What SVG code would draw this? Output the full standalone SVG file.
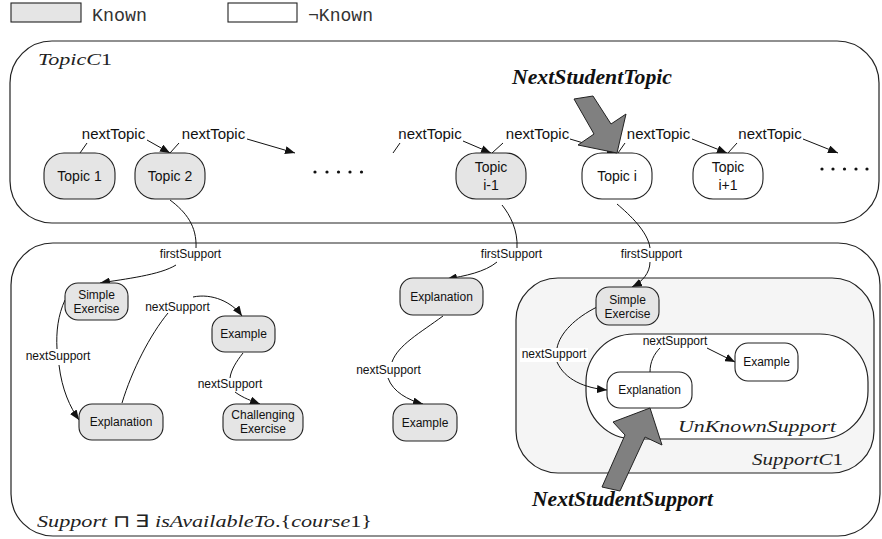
<svg xmlns="http://www.w3.org/2000/svg" width="882" height="539" viewBox="0 0 882 539">
  <style>
    .box { stroke: #222; stroke-width: 1.1; }
    .known { fill: #e5e5e5; }
    .unknown { fill: #ffffff; }
    .cont { fill: none; stroke: #222; stroke-width: 1.2; }
    .lbl { font-family: "Liberation Sans", Arial, sans-serif; fill: #111; text-anchor: middle; }
    .tn { font-size: 14px; }
    .sn { font-size: 12px; }
    .el { font-family: "Liberation Sans", Arial, sans-serif; fill: #111; text-anchor: middle; }
    .et { font-size: 15px; }
    .es { font-size: 12px; }
    .edge { fill: none; stroke: #111; stroke-width: 1; }
    .math { font-family: "Liberation Serif", "Times New Roman", serif; font-size: 17px; fill: #222; }
    .it { font-style: italic; }
    .big { font-family: "Liberation Serif", "Times New Roman", serif; font-size: 20px; font-weight: bold; font-style: italic; fill: #111; }
    .fat { fill: #808080; stroke: #222; stroke-width: 1; }
    .mono { font-family: "Liberation Mono", "Courier New", monospace; font-size: 18px; fill: #333; }
  </style>
  <defs>
    <marker id="arr" viewBox="0 0 10 8" refX="10" refY="4" markerWidth="10" markerHeight="8" orient="auto" markerUnits="userSpaceOnUse">
      <path d="M0,0 L10,4 L0,8 z" fill="#111"/>
    </marker>
  </defs>

  <!-- legend -->
  <g id="legend">
    <rect x="11" y="3" width="70" height="19" class="box known"/>
    <text x="92" y="21" class="mono" textLength="55" lengthAdjust="spacingAndGlyphs">Known</text>
    <rect x="228" y="3" width="69" height="19" class="box unknown"/>
    <text x="308" y="21" class="mono" textLength="65" lengthAdjust="spacingAndGlyphs">¬Known</text>
  </g>

  <!-- containers -->
  <g id="topicC1">
    <rect x="10" y="41" width="869" height="182" rx="42" class="cont"/>
    <text x="38" y="65" class="math" textLength="74" lengthAdjust="spacingAndGlyphs"><tspan class="it">TopicC</tspan>1</text>
  </g>
  <g id="supportCourse">
    <rect x="11" y="243" width="869" height="293" rx="42" class="cont"/>
    <text x="37" y="527" class="math" textLength="335" lengthAdjust="spacingAndGlyphs"><tspan class="it">Support</tspan> ⊓ ∃ <tspan class="it">isAvailableTo</tspan>.{<tspan class="it">course</tspan>1}</text>
  </g>
  <g id="supportC1">
    <rect x="516" y="278" width="358" height="195" rx="42" fill="#f5f5f5" stroke="#222" stroke-width="1.2"/>
    <text x="752" y="465" class="math" textLength="91" lengthAdjust="spacingAndGlyphs"><tspan class="it">SupportC</tspan>1</text>
  </g>
  <g id="unknownSupport">
    <rect x="586" y="334" width="282" height="105" rx="48" fill="#ffffff" stroke="#222" stroke-width="1.2"/>
    <text x="678" y="432" class="math it" textLength="158" lengthAdjust="spacingAndGlyphs">UnKnownSupport</text>
  </g>

  <!-- connectors -->
  <g id="connectors">
    <!-- nextTopic chain -->
    <path class="edge" d="M80,153 L87,143"/>
    <path class="edge" d="M147,140 L170,153" marker-end="url(#arr)"/>
    <path class="edge" d="M170,153 L179,143"/>
    <path class="edge" d="M247,139 L295,153" marker-end="url(#arr)"/>
    <path class="edge" d="M393,153 L400,143"/>
    <path class="edge" d="M463,141 L491,153" marker-end="url(#arr)"/>
    <path class="edge" d="M492,153 L503,143"/>
    <path class="edge" d="M570,139 L617,153" marker-end="url(#arr)"/>
    <path class="edge" d="M618,153 L625,143"/>
    <path class="edge" d="M692,139 L727,153" marker-end="url(#arr)"/>
    <path class="edge" d="M728,153 L737,143"/>
    <path class="edge" d="M803,139 L838,153" marker-end="url(#arr)"/>

    <!-- firstSupport -->
    <path class="edge" d="M170,200 C186,212 197,226 196,248"/>
    <path class="edge" d="M176,265 C160,275 125,279 100,283" marker-end="url(#arr)"/>
    <path class="edge" d="M502,205 C510,215 518,230 517,248"/>
    <path class="edge" d="M497,262 C485,272 465,276 447,279" marker-end="url(#arr)"/>
    <path class="edge" d="M617,204 C630,215 648,232 650,248"/>
    <path class="edge" d="M650,262 C650,273 642,282 632,287" marker-end="url(#arr)"/>

    <!-- nextSupport, left group -->
    <path class="edge" d="M65,300 C58,315 56,332 57,349"/>
    <path class="edge" d="M59,365 C62,390 70,407 79,420" marker-end="url(#arr)"/>
    <path class="edge" d="M122,403 C132,370 150,335 168,313"/>
    <path class="edge" d="M193,297 C212,293 232,302 242,316" marker-end="url(#arr)"/>
    <path class="edge" d="M243,353 C236,362 231,370 230,378"/>
    <path class="edge" d="M235,392 C243,398 252,401 260,404" marker-end="url(#arr)"/>

    <!-- nextSupport, middle group -->
    <path class="edge" d="M443,316 C420,333 398,345 392,362"/>
    <path class="edge" d="M388,378 C393,392 408,400 423,404" marker-end="url(#arr)"/>

    <!-- nextSupport, SupportC1 -->
    <path class="edge" d="M597,307 C575,318 560,333 557,348"/>
    <path class="edge" d="M557,362 C565,380 585,388 607,390" marker-end="url(#arr)"/>
    <path class="edge" d="M650,372 C650,362 654,354 660,348"/>
    <path class="edge" d="M707,348 L735,362" marker-end="url(#arr)"/>
  </g>

  <!-- connector labels -->
  <g id="labels">
    <text x="113.5" y="139" class="el et">nextTopic</text>
    <text x="213.5" y="139" class="el et">nextTopic</text>
    <text x="430" y="139" class="el et">nextTopic</text>
    <text x="537.5" y="139" class="el et">nextTopic</text>
    <text x="658.5" y="139" class="el et">nextTopic</text>
    <text x="770" y="139" class="el et">nextTopic</text>

    <text x="190.5" y="258" class="el es">firstSupport</text>
    <text x="511.5" y="258" class="el es">firstSupport</text>
    <text x="651.5" y="258" class="el es">firstSupport</text>

    <text x="58" y="360" class="el es">nextSupport</text>
    <text x="177.5" y="311" class="el es">nextSupport</text>
    <text x="230" y="388" class="el es">nextSupport</text>
    <text x="388.5" y="374" class="el es">nextSupport</text>
    <rect x="520" y="348" width="68" height="14" fill="#ffffff"/>
    <text x="554" y="358" class="el es">nextSupport</text>
    <text x="675" y="345" class="el es">nextSupport</text>
  </g>

  <!-- topic nodes -->
  <g id="topic1">
    <rect x="44" y="153" width="71" height="46" rx="20" class="box known"/>
    <text x="79.5" y="181" class="lbl tn">Topic 1</text>
  </g>
  <g id="topic2">
    <rect x="135" y="153" width="70" height="46" rx="20" class="box known"/>
    <text x="170" y="181" class="lbl tn">Topic 2</text>
  </g>
  <g id="dotsMid" fill="#111">
    <circle cx="315" cy="172" r="1.6"/><circle cx="327" cy="172" r="1.6"/><circle cx="338.5" cy="172" r="1.6"/><circle cx="350" cy="172" r="1.6"/><circle cx="361.5" cy="172" r="1.6"/>
  </g>
  <g id="topicIm1">
    <rect x="456" y="153" width="70" height="46" rx="20" class="box known"/>
    <text x="491" y="172" class="lbl tn">Topic</text>
    <text x="491" y="190" class="lbl tn">i-1</text>
  </g>
  <g id="topicI">
    <rect x="582" y="153" width="70" height="46" rx="20" class="box unknown"/>
    <text x="617" y="181" class="lbl tn">Topic i</text>
  </g>
  <g id="topicIp1">
    <rect x="693" y="153" width="70" height="46" rx="20" class="box unknown"/>
    <text x="728" y="172" class="lbl tn">Topic</text>
    <text x="728" y="190" class="lbl tn">i+1</text>
  </g>
  <g id="dotsEnd" fill="#111">
    <circle cx="822" cy="169" r="1.6"/><circle cx="833" cy="169" r="1.6"/><circle cx="844.5" cy="169" r="1.6"/><circle cx="856" cy="169" r="1.6"/><circle cx="867" cy="169" r="1.6"/>
  </g>

  <!-- support nodes -->
  <g id="simpleExercise1">
    <rect x="65" y="283" width="63" height="37" rx="13" class="box known"/>
    <text x="96.5" y="299" class="lbl sn">Simple</text>
    <text x="96.5" y="313" class="lbl sn">Exercise</text>
  </g>
  <g id="example1">
    <rect x="212" y="316" width="63" height="36" rx="13" class="box known"/>
    <text x="243.5" y="338" class="lbl sn">Example</text>
  </g>
  <g id="explanation1">
    <rect x="79" y="404" width="84" height="36" rx="13" class="box known"/>
    <text x="121" y="426" class="lbl sn">Explanation</text>
  </g>
  <g id="challengingExercise">
    <rect x="223" y="404" width="80" height="36" rx="13" class="box known"/>
    <text x="263" y="419" class="lbl sn">Challenging</text>
    <text x="263" y="433" class="lbl sn">Exercise</text>
  </g>
  <g id="explanation2">
    <rect x="400" y="278" width="83" height="37" rx="13" class="box known"/>
    <text x="441.5" y="301" class="lbl sn">Explanation</text>
  </g>
  <g id="example2">
    <rect x="393" y="404" width="64" height="37" rx="13" class="box known"/>
    <text x="425" y="427" class="lbl sn">Example</text>
  </g>
  <g id="simpleExercise3">
    <rect x="596" y="287" width="63" height="38" rx="13" class="box known"/>
    <text x="627.5" y="304" class="lbl sn">Simple</text>
    <text x="627.5" y="318" class="lbl sn">Exercise</text>
  </g>
  <g id="explanation3">
    <rect x="607" y="372" width="85" height="36" rx="13" class="box unknown"/>
    <text x="649.5" y="394" class="lbl sn">Explanation</text>
  </g>
  <g id="example3">
    <rect x="735" y="343" width="63" height="38" rx="13" class="box unknown"/>
    <text x="766.5" y="366" class="lbl sn">Example</text>
  </g>

  <!-- pointers -->
  <g id="nextStudentTopic">
    <text x="512" y="84" class="big" textLength="160" lengthAdjust="spacingAndGlyphs">NextStudentTopic</text>
    <polygon class="fat" points="574,99 593,96 611,124 626,114 617,153 578,145 594,134"/>
  </g>
  <g id="nextStudentSupport">
    <text x="532" y="506" class="big" textLength="181" lengthAdjust="spacingAndGlyphs">NextStudentSupport</text>
    <polygon class="fat" points="602,487 625,435 613,422 650,408 662,445 645,437 620,491"/>
  </g>
</svg>
